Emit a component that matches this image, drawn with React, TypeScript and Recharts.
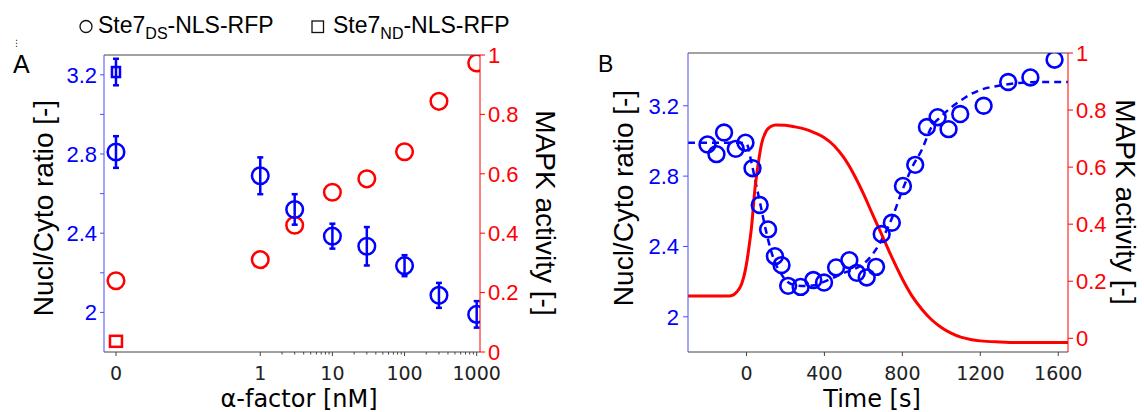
import React from "react";
import {
  ComposedChart,
  Scatter,
  Line,
  XAxis,
  YAxis,
  ErrorBar,
  ReferenceLine,
} from "recharts";

// ---- panel A: dose response ----
const doses = [0, 1, 3, 10, 30, 100, 300, 1000];
const dsRatio = [2.81, 2.69, 2.52, 2.385, 2.334, 2.236, 2.086, 1.99];
const dsRatioErr = [0.08, 0.093, 0.077, 0.063, 0.097, 0.053, 0.063, 0.067];
const dsMapk = [0.24, 0.311, 0.427, 0.538, 0.583, 0.674, 0.844, 0.973];
const ndDoses = [0];
const ndRatio = [3.214];
const ndRatioErr = [0.067];
const ndMapk = [0.036];
const doseTicks = [0, 1, 10, 100, 1000];
const doseMinorTicks = [
  2, 3, 4, 5, 6, 7, 8, 9, 20, 30, 40, 50, 60, 70, 80, 90, 200, 300, 400, 500,
  600, 700, 800, 900,
];
const ratioTicksA = [2, 2.2, 2.4, 2.6, 2.8, 3, 3.2];
const ratioLabelsA = [2, 2.4, 2.8, 3.2];
const mapkTicks = [0, 0.2, 0.4, 0.6, 0.8, 1];

// ---- panel B: time course ----
const obsTime = [
  -200, -154, -115, -55, -5, 31, 68, 111, 146, 180, 214, 278, 343, 398, 460,
  528, 566, 617, 665, 694, 746, 803, 866, 926, 981, 1037, 1097, 1217, 1343,
  1457, 1581,
];
const obsRatio = [
  2.98, 2.925, 3.048, 2.955, 2.99, 2.845, 2.636, 2.497, 2.345, 2.294, 2.176,
  2.17, 2.209, 2.195, 2.281, 2.322, 2.25, 2.224, 2.284, 2.471, 2.535, 2.744,
  2.864, 3.079, 3.135, 3.067, 3.153, 3.2, 3.335, 3.361, 3.462,
];
const fitTime = [
  -300, -50, 0, 25, 50, 75, 100, 125, 150, 175, 200, 250, 300, 350, 400, 450,
  500, 550, 600, 650, 700, 750, 800, 850, 900, 950, 1000, 1050, 1100, 1150,
  1200, 1300, 1400, 1500, 1650,
];
const fitRatio = [
  2.99, 2.99, 2.985, 2.88, 2.75, 2.62, 2.49, 2.38, 2.3, 2.25, 2.21, 2.18,
  2.175, 2.18, 2.2, 2.225, 2.25, 2.27, 2.3, 2.36, 2.45, 2.57, 2.72, 2.85, 2.95,
  3.08, 3.14, 3.19, 3.23, 3.265, 3.29, 3.315, 3.33, 3.335, 3.335,
];
const mapkTime = [
  -300, -100, -75, -50, -25, 0, 13, 26, 43, 60, 77, 103, 125, 150, 200, 250,
  300, 350, 400, 450, 500, 550, 600, 650, 700, 750, 800, 850, 900, 950, 1000,
  1050, 1100, 1150, 1200, 1300, 1400, 1650,
];
const mapkLevel = [
  0.148, 0.148, 0.15, 0.162, 0.19, 0.26, 0.32, 0.39, 0.52, 0.61, 0.68, 0.728,
  0.742, 0.748, 0.747, 0.741, 0.733, 0.72, 0.703, 0.675, 0.633, 0.576, 0.507,
  0.43, 0.355, 0.278, 0.208, 0.148, 0.102, 0.065, 0.038, 0.018, 0.004, -0.004,
  -0.009, -0.013, -0.015, -0.015,
];
const timeTicks = [0, 400, 800, 1200, 1600];
const ratioTicksB = [2, 2.4, 2.8, 3.2];

const BLUE = "#0000ff";
const RED = "#ff0000";
const AXIS_BLUE = "#4d4dff";
const HELV = "'Liberation Sans', Arial, Helvetica, sans-serif";
const DEJAVU = "'DejaVu Sans', Verdana, sans-serif";

// 0 nM is drawn two decades left of 1 nM
const doseToPos = (d: number) => (d === 0 ? -2 : Math.log10(d));

const pts = (xs: number[], ys: number[], errs?: number[]) =>
  xs.map((x, i) => ({ x, y: ys[i], err: errs ? errs[i] : 0 }));

const ring = (color: string, r: number, sw: number) => (p: any) =>
  <circle cx={p.cx} cy={p.cy} r={r} fill="none" stroke={color} strokeWidth={sw} />;

const box = (color: string, w: number, h: number) => (p: any) =>
  (
    <rect
      x={p.cx - w / 2}
      y={p.cy - h / 2}
      width={w}
      height={h}
      fill="none"
      stroke={color}
      strokeWidth={2.5}
    />
  );

function AxisTitle({ tx, ty, rot, text, font, size }: any) {
  return (
    <text
      x={tx}
      y={ty}
      transform={rot ? `rotate(${rot} ${tx} ${ty})` : undefined}
      textAnchor="middle"
      fontFamily={font}
      fontSize={size}
      fill="#000"
    >
      {text}
    </text>
  );
}

const majorPos = doseTicks.map(doseToPos);

function DoseTick({ x, y, payload }: any) {
  const idx = majorPos.findIndex((p) => Math.abs(p - payload.value) < 1e-6);
  const axisY = y - 15;
  return (
    <g>
      <line
        x1={x}
        x2={x}
        y1={axisY}
        y2={axisY + (idx >= 0 ? 4 : 2.5)}
        stroke="#444"
        strokeWidth={1}
      />
      {idx >= 0 && (
        <text
          x={x}
          y={y}
          dy="0.71em"
          textAnchor="middle"
          fontFamily={DEJAVU}
          fontSize={19}
          fill="#222"
        >
          {doseTicks[idx]}
        </text>
      )}
    </g>
  );
}

const fmt = (v: number) => String(Math.round(v * 10) / 10);

function PanelA() {
  const dsBlue = pts(doses.map(doseToPos), dsRatio, dsRatioErr);
  const dsRed = pts(doses.map(doseToPos), dsMapk);
  const ndBlue = pts(ndDoses.map(doseToPos), ndRatio, ndRatioErr);
  const ndRed = pts(ndDoses.map(doseToPos), ndMapk);
  const xTicks = [...doseTicks, ...doseMinorTicks].map(doseToPos);
  return (
    <ComposedChart
      width={560}
      height={412}
      margin={{ top: 55, right: 0, bottom: 0, left: 0 }}
    >
      <XAxis
        dataKey="x"
        type="number"
        domain={[-2.166, 3.046]}
        allowDataOverflow
        ticks={xTicks}
        interval={0}
        tick={<DoseTick />}
        tickLine={false}
        tickSize={4}
        tickMargin={11}
        height={60}
        axisLine={{ stroke: "#444" }}
        label={
          <AxisTitle tx={299} ty={407} text="α-factor [nM]" font={DEJAVU} size={24} />
        }
      />
      <YAxis
        yAxisId="ratio"
        dataKey="y"
        type="number"
        orientation="left"
        width={104}
        domain={[1.8, 3.3]}
        allowDataOverflow
        ticks={ratioTicksA}
        interval={0}
        tickFormatter={(v: number) =>
          ratioLabelsA.some((l) => Math.abs(l - v) < 1e-6) ? fmt(v) : ""
        }
        tick={{ fill: BLUE, fontSize: 22, fontFamily: HELV }}
        tickSize={4}
        tickMargin={3}
        tickLine={{ stroke: AXIS_BLUE }}
        axisLine={{ stroke: AXIS_BLUE }}
        label={
          <AxisTitle tx={53} ty={208} rot={-90} text="Nucl/Cyto ratio [-]" font={HELV} size={28} />
        }
      />
      <YAxis
        yAxisId="mapk"
        dataKey="y"
        type="number"
        orientation="right"
        width={80}
        domain={[0, 1]}
        allowDataOverflow
        ticks={mapkTicks}
        interval={0}
        tickFormatter={fmt}
        tick={{ fill: RED, fontSize: 22, fontFamily: HELV }}
        tickSize={5}
        tickMargin={3}
        tickLine={{ stroke: RED }}
        axisLine={{ stroke: RED }}
        label={
          <AxisTitle tx={536} ty={213} rot={90} text="MAPK activity [-]" font={HELV} size={28} />
        }
      />
      <ReferenceLine yAxisId="mapk" y={1} stroke="#444" strokeWidth={1} />
      <Scatter
        yAxisId="mapk"
        data={dsRed}
        shape={ring(RED, 8.3, 2.5)}
        isAnimationActive={false}
      />
      <Scatter
        yAxisId="mapk"
        data={ndRed}
        shape={box(RED, 12, 11)}
        isAnimationActive={false}
      />
      <Scatter
        yAxisId="ratio"
        data={dsBlue}
        shape={ring(BLUE, 8.3, 2.5)}
        isAnimationActive={false}
      >
        <ErrorBar dataKey="err" direction="y" width={3} stroke={BLUE} strokeWidth={2.5} />
      </Scatter>
      <Scatter
        yAxisId="ratio"
        data={ndBlue}
        shape={box(BLUE, 8, 10)}
        isAnimationActive={false}
      >
        <ErrorBar dataKey="err" direction="y" width={3} stroke={BLUE} strokeWidth={2.5} />
      </Scatter>
    </ComposedChart>
  );
}

function PanelB() {
  const obs = pts(obsTime, obsRatio);
  const fit = pts(fitTime, fitRatio);
  const mapk = pts(mapkTime, mapkLevel);
  return (
    <ComposedChart
      width={584}
      height={412}
      margin={{ top: 53, right: 0, bottom: 0, left: 0 }}
    >
      <XAxis
        dataKey="x"
        type="number"
        domain={[-300, 1650]}
        allowDataOverflow
        ticks={timeTicks}
        interval={0}
        tick={{ fill: "#222", fontSize: 19, fontFamily: DEJAVU }}
        tickSize={4}
        tickMargin={11}
        tickLine={{ stroke: "#444" }}
        height={60}
        axisLine={{ stroke: "#444" }}
        label={<AxisTitle tx={312} ty={407} text="Time [s]" font={DEJAVU} size={24} />}
      />
      <YAxis
        yAxisId="ratio"
        dataKey="y"
        type="number"
        orientation="left"
        width={128}
        domain={[1.8, 3.5]}
        allowDataOverflow
        ticks={ratioTicksB}
        interval={0}
        tickFormatter={fmt}
        tick={{ fill: BLUE, fontSize: 22, fontFamily: HELV }}
        tickSize={5}
        tickMargin={4}
        tickLine={{ stroke: AXIS_BLUE }}
        axisLine={{ stroke: AXIS_BLUE }}
        label={
          <AxisTitle tx={73} ty={198} rot={-90} text="Nucl/Cyto ratio [-]" font={HELV} size={28} />
        }
      />
      <YAxis
        yAxisId="mapk"
        dataKey="y"
        type="number"
        orientation="right"
        width={76}
        domain={[-0.048, 1]}
        allowDataOverflow
        ticks={mapkTicks}
        interval={0}
        tickFormatter={fmt}
        tick={{ fill: RED, fontSize: 22, fontFamily: HELV }}
        tickSize={5}
        tickMargin={3}
        tickLine={{ stroke: RED }}
        axisLine={{ stroke: RED }}
        label={
          <AxisTitle tx={556} ty={202} rot={90} text="MAPK activity [-]" font={HELV} size={28} />
        }
      />
      <ReferenceLine yAxisId="mapk" y={1} stroke="#444" strokeWidth={1} />
      <Line
        yAxisId="ratio"
        data={fit}
        dataKey="y"
        type="monotone"
        stroke={BLUE}
        strokeWidth={2.5}
        strokeDasharray="7 5"
        dot={false}
        isAnimationActive={false}
      />
      <Scatter
        yAxisId="ratio"
        data={obs}
        shape={ring(BLUE, 7.9, 2.6)}
        isAnimationActive={false}
      />
      <Line
        yAxisId="mapk"
        data={mapk}
        dataKey="y"
        type="monotone"
        stroke={RED}
        strokeWidth={3}
        dot={false}
        isAnimationActive={false}
      />
    </ComposedChart>
  );
}

export default function App() {
  return (
    <div
      style={{
        position: "absolute",
        left: 0,
        top: 0,
        width: 1144,
        height: 412,
        background: "#fff",
      }}
    >
      <div style={{ position: "absolute", left: 0, top: 0 }}>
        <PanelA />
      </div>
      <div style={{ position: "absolute", left: 560, top: 0 }}>
        <PanelB />
      </div>
      <svg
        width={1144}
        height={412}
        style={{ position: "absolute", left: 0, top: 0, pointerEvents: "none" }}
      >
        <circle cx={86} cy={26.5} r={6} fill="none" stroke="#111" strokeWidth={1.3} />
        <text x={98} y={32.7} fontFamily={HELV} fontSize={23} fill="#000">
          Ste7
          <tspan fontSize={16} dy={6.6}>DS</tspan>
          <tspan dy={-6.6}>-NLS-RFP</tspan>
        </text>
        <rect x={312} y={21} width={11.5} height={11.5} fill="none" stroke="#111" strokeWidth={1.3} />
        <text x={333} y={32.7} fontFamily={HELV} fontSize={23} fill="#000">
          Ste7
          <tspan fontSize={16} dy={6.6}>ND</tspan>
          <tspan dy={-6.6}>-NLS-RFP</tspan>
        </text>
        <text x={12} y={46} fontFamily={DEJAVU} fontSize={9} fill="#222">⋮</text>
        <text x={13} y={73.3} fontFamily={HELV} fontSize={25} fill="#000">A</text>
        <text x={598} y={71.7} fontFamily={HELV} fontSize={23} fill="#000">B</text>
      </svg>
    </div>
  );
}
